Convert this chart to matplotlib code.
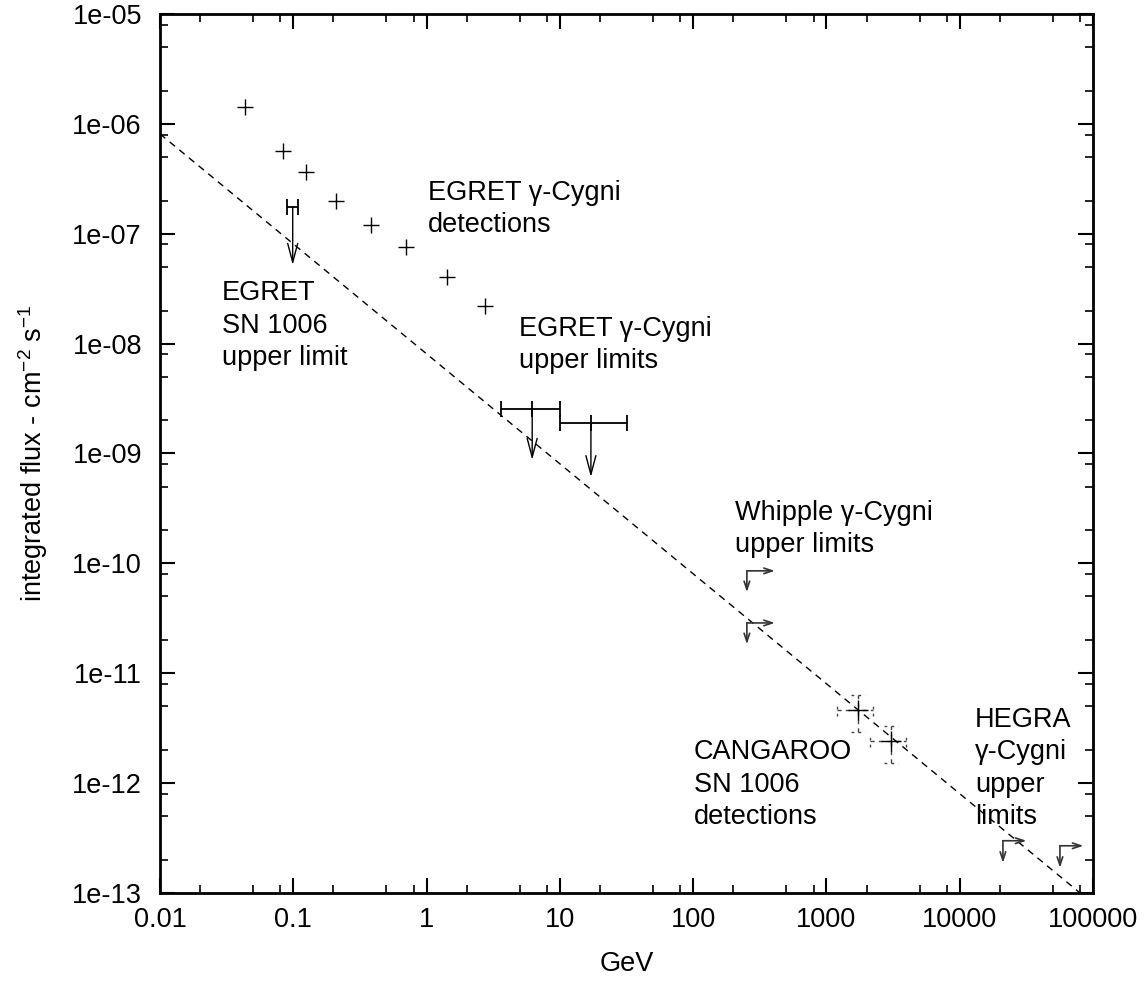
import matplotlib
matplotlib.use("Agg")
import matplotlib.pyplot as plt
import numpy as np
from matplotlib.ticker import LogLocator, FixedFormatter, FixedLocator

plt.rcParams['font.family'] = ['Liberation Sans', 'DejaVu Sans']
plt.rcParams['mathtext.fontset'] = 'custom'
plt.rcParams['mathtext.rm'] = 'Liberation Sans'
plt.rcParams['mathtext.default'] = 'regular'

# ---------------- data ----------------
# EGRET gamma-Cygni detections
egret_det_E = [0.0435, 0.0838, 0.124, 0.209, 0.383, 0.70, 1.42, 2.74]
egret_det_F = [1.43e-6, 5.67e-7, 3.65e-7, 1.99e-7, 1.20e-7, 7.6e-8, 4.0e-8, 2.2e-8]

# EGRET SN 1006 upper limit
sn_ul_E = [0.099]
sn_ul_Elo = [0.089]
sn_ul_Ehi = [0.108]
sn_ul_F = [1.75e-7]
sn_ul_tip = [5.2e-8]

# EGRET gamma-Cygni upper limits
eg_ul_E = [6.2, 17.1]
eg_ul_Elo = [3.6, 10.0]
eg_ul_Ehi = [10.0, 32.0]
eg_ul_F = [2.55e-9, 1.9e-9]
eg_ul_tip = [8.75e-10, 6.1e-10]

# Whipple gamma-Cygni upper limits (threshold energy, flux)
wh_E = [253, 253]
wh_F = [8.55e-11, 2.87e-11]

# CANGAROO SN 1006 detections
ca_E = [1722, 3048]
ca_Elo = [1199, 2120]
ca_Ehi = [2233, 3948]
ca_F = [4.65e-12, 2.43e-12]
ca_Flo = [2.93e-12, 1.53e-12]
ca_Fhi = [6.36e-12, 3.32e-12]

# HEGRA gamma-Cygni upper limits
he_E = [21100, 56500]
he_F = [2.99e-13, 2.69e-13]

# model line
line_E = [0.01, 80000]
line_F = [8.1e-7, 1.0e-13]

x_ticks = [0.01, 0.1, 1, 10, 100, 1000, 10000, 100000]
x_ticklabels = ['0.01', '0.1', '1', '10', '100', '1000', '10000', '100000']
y_ticks = [1e-13, 1e-12, 1e-11, 1e-10, 1e-9, 1e-8, 1e-7, 1e-6, 1e-5]
y_ticklabels = ['1e-13', '1e-12', '1e-11', '1e-10', '1e-09', '1e-08', '1e-07', '1e-06', '1e-05']

# ---------------- figure ----------------
fig = plt.figure(figsize=(11.47, 9.81), dpi=100)
ax = fig.add_axes([160/1147, 88/981, (1093-160)/1147, (893-14)/981])
ax.set_xscale('log')
ax.set_yscale('log')
ax.set_xlim(0.01, 100000)
ax.set_ylim(1e-13, 1e-5)

FS = 19.5
k = 'black'

# model dashed line
ax.plot(line_E, line_F, color=k, lw=1.0, dashes=(5, 4))

# EGRET detections
ax.plot(egret_det_E, egret_det_F, '+', color=k, ms=11, mew=1.0)

def arrow(x0, y0, x1, y1, color=k, scale=18, hl=0.7, hw=0.2, lw=1.0):
    ax.annotate('', xy=(x1, y1), xytext=(x0, y0),
                arrowprops=dict(arrowstyle='->,head_length=%g,head_width=%g' % (hl, hw),
                                color=color, lw=lw, shrinkA=0, shrinkB=0,
                                mutation_scale=scale))

# bar with caps upper limits (EGRET SN1006 + EGRET gamma-Cygni)
def bar_ul(E, Elo, Ehi, F, tip, center_tick=True):
    for e, lo, hi, f, t in zip(E, Elo, Ehi, F, tip):
        ax.errorbar([e], [f], xerr=[[e - lo], [hi - e]], fmt='none', ecolor=k,
                    elinewidth=1.3, capsize=6, capthick=1.3)
        if center_tick:
            ax.plot([e], [f], '|', color=k, ms=12, mew=1.3)
        arrow(e, f, e, t, scale=18, hl=0.75, hw=0.2)

bar_ul(sn_ul_E, sn_ul_Elo, sn_ul_Ehi, sn_ul_F, sn_ul_tip, center_tick=False)
bar_ul(eg_ul_E, eg_ul_Elo, eg_ul_Ehi, eg_ul_F, eg_ul_tip)

# threshold upper limits: arrow right and arrow down from corner
def thr_ul(E, F, rf, df, color):
    for e, f in zip(E, F):
        arrow(e, f, e * rf, f, color=color, scale=10, hl=0.6, hw=0.2, lw=1.2)
        arrow(e, f, e, f * df, color=color, scale=10, hl=0.6, hw=0.2, lw=1.2)

thr_ul(wh_E, wh_F, 1.62, 0.64, '#333333')
thr_ul(he_E, he_F, 1.50, 0.63, '#333333')

# CANGAROO detections with dashed error bars
for e, lo, hi, f, flo, fhi in zip(ca_E, ca_Elo, ca_Ehi, ca_F, ca_Flo, ca_Fhi):
    ax.plot([lo, hi], [f, f], color='#444444', lw=1.0, dashes=(3, 3))
    ax.plot([e, e], [flo, fhi], color='#444444', lw=1.0, dashes=(3, 3))
    cy = 10 ** (6 / 109.9)
    cx = 10 ** (7 / 133.3)
    for xc in (lo, hi):
        ax.plot([xc, xc], [f / cy, f * cy], color='#444444', lw=1.0, dashes=(2, 3))
    for yc in (flo, fhi):
        ax.plot([e / cx, e * cx], [yc, yc], color='#444444', lw=1.0, dashes=(2, 3))
    ax.plot([e], [f], '+', color=k, ms=14, mew=1.0)

# annotations
LS = 1.32
LINE_PX = 33.0
def label(px, py, s):
    # px, py: pixel location of first-line baseline (from top-left)
    n = s.count('\n')
    ylast = py + n * LINE_PX
    ax.text(px / 1147, 1 - ylast / 981, s, transform=fig.transFigure,
            fontsize=FS, ha='left', va='baseline', linespacing=LS)

label(428, 199, 'EGRET \u03b3-Cygni\ndetections')
label(222, 299, 'EGRET\nSN 1006\nupper limit')
label(519, 335, 'EGRET \u03b3-Cygni\nupper limits')
label(735, 519, 'Whipple \u03b3-Cygni\nupper limits')
label(694, 758, 'CANGAROO\nSN 1006\ndetections')
label(975, 725, 'HEGRA\n\u03b3-Cygni\nupper\nlimits')

# ticks
ax.xaxis.set_major_locator(FixedLocator(x_ticks))
ax.xaxis.set_major_formatter(FixedFormatter(x_ticklabels))
ax.yaxis.set_major_locator(FixedLocator(y_ticks))
ax.yaxis.set_major_formatter(FixedFormatter(y_ticklabels))
ax.xaxis.set_minor_locator(LogLocator(base=10, subs=(2, 5, 8), numticks=30))
ax.yaxis.set_minor_locator(LogLocator(base=10, subs=(2, 5, 8), numticks=30))
ax.xaxis.set_minor_formatter(plt.NullFormatter())
ax.yaxis.set_minor_formatter(plt.NullFormatter())
ax.tick_params(which='both', direction='in', top=True, right=True, labelsize=FS)
ax.tick_params(which='major', length=11, width=1.5)
ax.tick_params(which='minor', length=5.5, width=1.2)
ax.tick_params(axis='y', which='major', pad=13)
ax.tick_params(axis='x', which='major', pad=10)
for s in ax.spines.values():
    s.set_linewidth(2.0)

ax.set_xlabel('GeV', fontsize=FS, labelpad=13)
ax.set_ylabel('integrated flux - cm$^{-2}$ s$^{-1}$', fontsize=FS, labelpad=16)

fig.savefig('out.png', dpi=100)
